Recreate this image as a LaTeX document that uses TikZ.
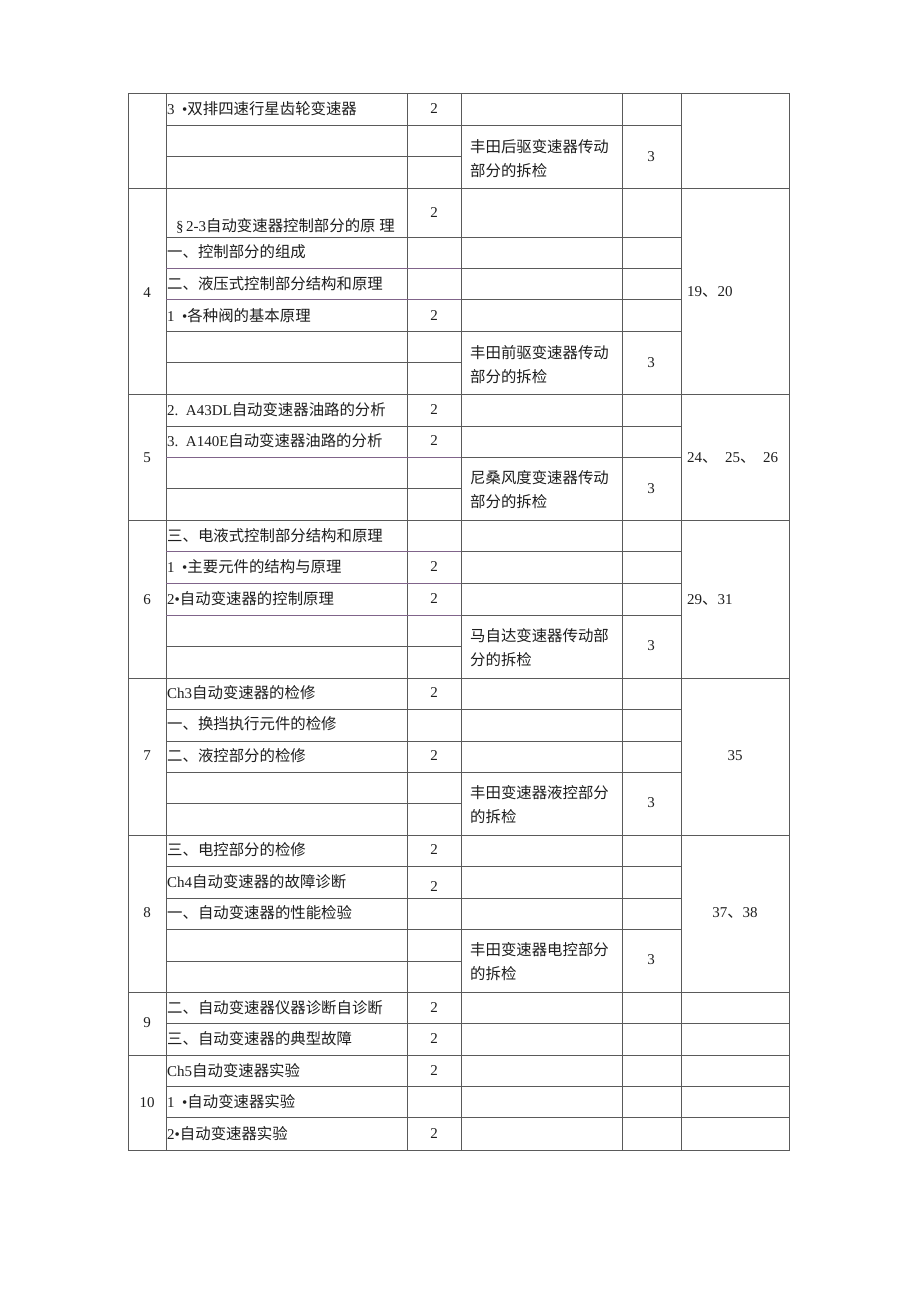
\documentclass[tikz,border=0pt]{standalone}
\usepackage{fontspec}
\setmainfont{Liberation Serif}
\newfontfamily\cjk{Noto Sans CJK SC}
\newcommand\fs{\fontsize{15}{18}\selectfont}
\newcommand\C[1]{{\cjk\fontsize{15.4}{18}\selectfont #1}}
\definecolor{gridc}{RGB}{90,90,90}
\definecolor{purc}{RGB}{128,100,138}
\definecolor{txtc}{RGB}{30,30,30}
\tikzset{
  gridline/.style={draw=gridc, line width=0.9pt},
  purline/.style={draw=purc, line width=0.9pt},
  cell/.style={anchor=west, inner sep=0pt, font=\fs, text=txtc},
  num/.style={anchor=center, inner sep=0pt, font=\fs, text=txtc},
}
\begin{document}
\begin{tikzpicture}[x=1pt,y=-1pt]
\useasboundingbox (0,0) rectangle (920,1302);
\fill[white] (0,0) rectangle (920,1302);
% outer frame and verticals
\draw[gridline] (128,93) rectangle (789,1150);
\foreach \x in {166,407,461,622,681} \draw[gridline] (\x,93) -- (\x,1150);
% full-width block boundaries
\foreach \y in {188,394,520,678,835,992,1055} \draw[gridline] (128,\y) -- (789,\y);
% rows of blocks 9 and 10
\foreach \y in {1023,1086,1117} \draw[gridline] (166,\y) -- (789,\y);
% content rows spanning to hours of practical
\foreach \y in {125.5,237,331,426,709,741,772,866,898,929} \draw[gridline] (166,\y) -- (681,\y);
\foreach \y in {268,299,457,551,583,615} \draw[purline] (166,\y) -- (461,\y);
\foreach \y in {268,299,457,551,583,615} \draw[gridline] (461,\y) -- (681,\y);
% content rows inside practical merged area
\foreach \y in {156,362,488,646,803,961} \draw[gridline] (166,\y) -- (461,\y);

% ---- block 3 ----
\node[cell] (b3a) at (167,109) {3\ \ •\C{双排四速行星齿轮变速器}};
\node[num] (b3ah) at (434,109) {2};
\node[cell] (b3p1) at (470,147) {\C{丰田后驱变速器传动}};
\node[cell] (b3p2) at (470,171) {\C{部分的拆检}};
\node[num] (b3ph) at (651,157) {3};

% ---- block 4 ----
\node[num] (n4) at (147,293) {4};
\node[cell] (b4a) at (176,226) {§\,2-3\C{自动变速器控制部分的原}\ \C{理}};
\node[num] (b4ah) at (434,213) {2};
\node[cell] (b4b) at (167,252) {\C{一、控制部分的组成}};
\node[cell] (b4c) at (167,284) {\C{二、液压式控制部分结构和原理}};
\node[cell] (b4d) at (167,316) {1\ \ •\C{各种阀的基本原理}};
\node[num] (b4dh) at (434,316) {2};
\node[cell] (b4p1) at (470,353) {\C{丰田前驱变速器传动}};
\node[cell] (b4p2) at (470,377) {\C{部分的拆检}};
\node[num] (b4ph) at (651,363) {3};
\node[cell] (b4w) at (687,292) {19\C{、}20};

% ---- block 5 ----
\node[num] (n5) at (147,458) {5};
\node[cell] (b5a) at (167,410) {2.\ \ A43DL\C{自动变速器油路的分析}};
\node[num] (b5ah) at (434,410) {2};
\node[cell] (b5b) at (167,441) {3.\ \ A140E\C{自动变速器油路的分析}};
\node[num] (b5bh) at (434,441) {2};
\node[cell] (b5p1) at (470,478) {\C{尼桑风度变速器传动}};
\node[cell] (b5p2) at (470,502) {\C{部分的拆检}};
\node[num] (b5ph) at (651,489) {3};
\node[cell] (b5w) at (687,458) {24\C{、}\ \ 25\C{、}\ \ 26};

% ---- block 6 ----
\node[num] (n6) at (147,600) {6};
\node[cell] (b6a) at (167,536) {\C{三、电液式控制部分结构和原理}};
\node[cell] (b6b) at (167,567) {1\ \ •\C{主要元件的结构与原理}};
\node[num] (b6bh) at (434,567) {2};
\node[cell] (b6c) at (167,599) {2•\C{自动变速器的控制原理}};
\node[num] (b6ch) at (434,599) {2};
\node[cell] (b6p1) at (470,636) {\C{马自达变速器传动部}};
\node[cell] (b6p2) at (470,660) {\C{分的拆检}};
\node[num] (b6ph) at (651,646) {3};
\node[cell] (b6w) at (687,600) {29\C{、}31};

% ---- block 7 ----
\node[num] (n7) at (147,756) {7};
\node[cell] (b7a) at (167,693) {Ch3\C{自动变速器的检修}};
\node[num] (b7ah) at (434,693) {2};
\node[cell] (b7b) at (167,724) {\C{一、换挡执行元件的检修}};
\node[cell] (b7c) at (167,756) {\C{二、液控部分的检修}};
\node[num] (b7ch) at (434,756) {2};
\node[cell] (b7p1) at (470,793) {\C{丰田变速器液控部分}};
\node[cell] (b7p2) at (470,817) {\C{的拆检}};
\node[num] (b7ph) at (651,803) {3};
\node[num] (b7w) at (735,756) {35};

% ---- block 8 ----
\node[num] (n8) at (147,913) {8};
\node[cell] (b8a) at (167,850) {\C{三、电控部分的检修}};
\node[num] (b8ah) at (434,850) {2};
\node[cell] (b8b) at (167,882) {Ch4\C{自动变速器的故障诊断}};
\node[num] (b8bh) at (434,887) {2};
\node[cell] (b8c) at (167,913) {\C{一、自动变速器的性能检验}};
\node[cell] (b8p1) at (470,950) {\C{丰田变速器电控部分}};
\node[cell] (b8p2) at (470,974) {\C{的拆检}};
\node[num] (b8ph) at (651,960) {3};
\node[num] (b8w) at (735,913) {37\C{、}38};

% ---- block 9 ----
\node[num] (n9) at (147,1023) {9};
\node[cell] (b9a) at (167,1008) {\C{二、自动变速器仪器诊断自诊断}};
\node[num] (b9ah) at (434,1008) {2};
\node[cell] (b9b) at (167,1039) {\C{三、自动变速器的典型故障}};
\node[num] (b9bh) at (434,1039) {2};

% ---- block 10 ----
\node[num] (n10) at (147,1103) {10};
\node[cell] (b10a) at (167,1071) {Ch5\C{自动变速器实验}};
\node[num] (b10ah) at (434,1071) {2};
\node[cell] (b10b) at (167,1102) {1\ \ •\C{自动变速器实验}};
\node[cell] (b10c) at (167,1134) {2•\C{自动变速器实验}};
\node[num] (b10ch) at (434,1134) {2};
\end{tikzpicture}
\end{document}
